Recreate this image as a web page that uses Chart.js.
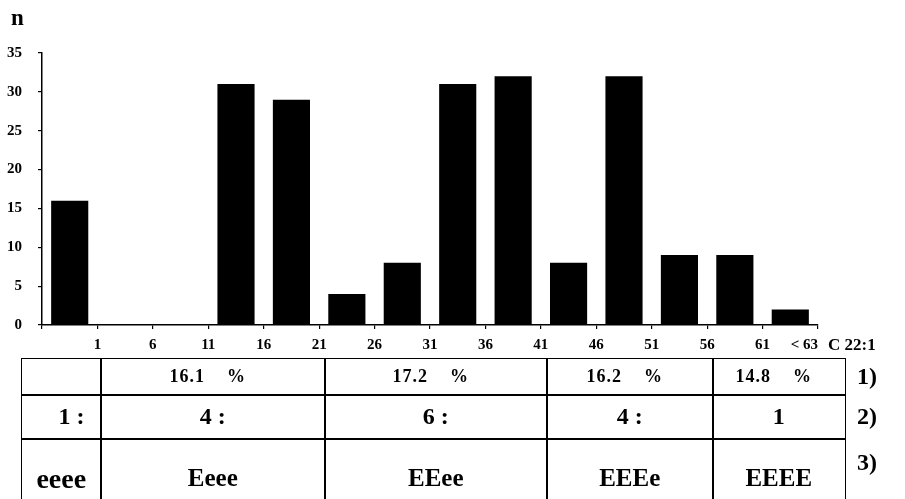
<!DOCTYPE html>
<html>
<head>
<meta charset="utf-8">
<script src="https://cdn.jsdelivr.net/npm/chart.js@4.4.0/dist/chart.umd.min.js"></script>
<style>
  html, body { margin: 0; padding: 0; background: #fff; overflow: hidden; }
  #wrap { position: relative; width: 905px; height: 499px; overflow: hidden; font-family: "Liberation Serif", "DejaVu Serif", serif; font-weight: bold; color: #000; }
  #c { position: absolute; left: 0; top: 0; }
  .t { position: absolute; white-space: pre; line-height: 1; }
  .cell { position: absolute; box-sizing: border-box; border: 1.5px solid #000; display: flex; align-items: center; justify-content: center; white-space: pre; }
</style>
</head>
<body>
<div id="wrap">
  <canvas id="c" width="905" height="499"></canvas>
  <div class="t" style="left:11px; top:6px; font-size:23px;">n</div>
  <div class="t" style="left:828px; top:336px; font-size:17px;">C 22:1</div>
  <div id="table"></div>
</div>
<script>
// ---- data ----
const binValues = [16, 0, 0, 31, 29, 4, 8, 31, 32, 8, 32, 9, 9, 2];
const boundaryLabels = ['1', '6', '11', '16', '21', '26', '31', '36', '41', '46', '51', '56', '61', '< 63'];
const yTicks = [0, 5, 10, 15, 20, 25, 30, 35];
const percentRow = ['', '16.1    %', '17.2    %', '16.2    %', '14.8    %'];
const ratioRow = ['1 :', '4 :', '6 :', '4 :', '1'];
const genotypeRow = ['eeee', 'Eeee', 'EEee', 'EEEe', 'EEEE'];
const rowNotes = ['1)', '2)', '3)'];

// ---- chart ----
const points = binValues.map((v, i) => ({ x: i + 0.5, y: v }));
const font = { family: '"Liberation Serif", serif', weight: 'bold', size: 15 };

new Chart(document.getElementById('c'), {
  type: 'bar',
  data: {
    datasets: [{
      data: points,
      backgroundColor: '#000',
      borderWidth: 0,
      barPercentage: 0.67,
      categoryPercentage: 1
    }]
  },
  options: {
    responsive: false,
    animation: false,
    events: [],
    layout: { padding: { left: 0, top: 53, right: 87, bottom: 0 } },
    plugins: { legend: { display: false }, tooltip: { enabled: false } },
    scales: {
      x: {
        type: 'linear',
        min: 0, max: boundaryLabels.length,
        offset: false,
        afterFit: s => { s.height = 499 - 325; },
        afterBuildTicks: s => { s.ticks = boundaryLabels.map((_, i) => ({ value: i + 1 })); s.ticks.unshift({ value: 0 }); },
        border: { display: true, color: '#000', width: 1.5 },
        grid: { drawOnChartArea: false, offset: false, color: '#000', tickLength: 4, lineWidth: 1.2 },
        ticks: {
          autoSkip: false, maxRotation: 0, align: 'inner', padding: 7, color: '#000', font,
          callback: v => (v >= 1 ? boundaryLabels[v - 1] : '')
        }
      },
      y: {
        min: 0, max: 35,
        afterFit: s => { s.width = 42; },
        afterBuildTicks: s => { s.ticks = yTicks.map(v => ({ value: v })); },
        border: { display: true, color: '#000', width: 1.5 },
        grid: { drawOnChartArea: false, color: '#000', tickLength: 4, lineWidth: 1.2 },
        ticks: { padding: 16, color: '#000', font }
      }
    }
  }
});

// ---- table below the axis ----
const colX = [21, 100, 324, 546, 712, 844];
const rowY = [358, 394, 438, 516];
const rows = [percentRow, ratioRow, genotypeRow];
const rowFont = [18, 24, 25];
const tbl = document.getElementById('table');
rows.forEach((row, r) => {
  row.forEach((txt, c) => {
    const d = document.createElement('div');
    d.className = 'cell';
    d.style.left = colX[c] + 'px';
    d.style.top = rowY[r] + 'px';
    d.style.width = (colX[c + 1] - colX[c] + 1.5) + 'px';
    d.style.height = (rowY[r + 1] - rowY[r] + 1.5) + 'px';
    d.style.fontSize = rowFont[r] + 'px';
    if (r === 0) { d.style.letterSpacing = '1px'; d.style.paddingRight = '10px'; }
    if (r === 1 && c === 0) { d.style.justifyContent = 'flex-end'; d.style.paddingRight = '16px'; }
    if (r === 2 && c === 0) { d.style.fontSize = '28px'; d.style.paddingTop = '2px'; }
    d.textContent = txt;
    tbl.appendChild(d);
  });
  const n = document.createElement('div');
  n.className = 't';
  n.style.left = '857px';
  n.style.top = (r === 2 ? 450 : (rowY[r] + rowY[r + 1]) / 2 - 12) + 'px';
  n.style.fontSize = '24px';
  n.textContent = rowNotes[r];
  tbl.appendChild(n);
});
</script>
</body>
</html>
